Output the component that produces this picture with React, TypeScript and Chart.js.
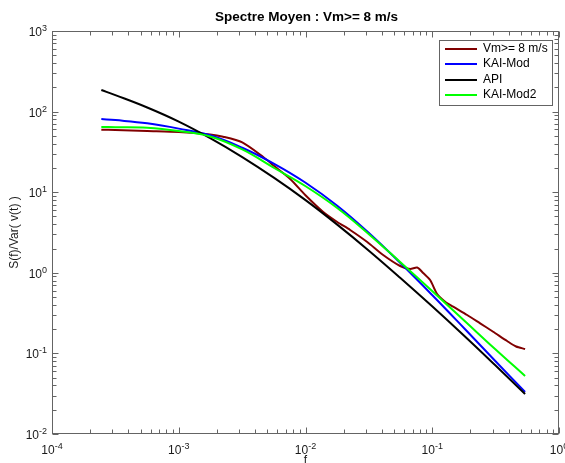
import React, { useEffect, useRef } from "react";
import { Chart, registerables } from "chart.js";

Chart.register(...registerables);

// ---------- text ----------
const TITLE = "Spectre Moyen : Vm>= 8 m/s";
const X_LABEL = "f";
const Y_LABEL = "S(f)/Var( v(t) )";
const SERIES_LABELS = ["Vm>= 8 m/s", "KAI-Mod", "API", "KAI-Mod2"];
const SERIES_COLORS = ["#800000", "#0000ff", "#000000", "#00ff00"];

// ---------- axes ----------
const X_MIN = 1e-4;
const X_MAX = 1;
const Y_MIN = 1e-2;
const Y_MAX = 1e3;

// ---------- data ----------
const fModel = [2.45e-4, 3.16e-4, 5.64e-4, 1.0e-3, 1.77e-3, 3.17e-3, 5.66e-3, 9.95e-3, 1.78e-2, 3.18e-2, 5.58e-2, 0.0998, 0.1785, 0.313, 0.54];
const sKaiMod = [80.9, 78.5, 71.5, 61.5, 50.8, 35.6, 22.5, 13.2, 6.8, 3.1, 1.33, 0.53, 0.205, 0.081, 0.0333];
const sApi = [185.4, 160.2, 112.4, 75.1, 46.8, 27.26, 15.04, 8.03, 3.96, 1.87, 0.869, 0.384, 0.1654, 0.0716, 0.03135];
const sKaiMod2 = [64.4, 64.1, 63.1, 57.4, 49.1, 33.9, 19.96, 11.94, 6.37, 2.99, 1.361, 0.5945, 0.256, 0.1134, 0.0524];

const fVm = [2.45e-4, 3.16e-4, 5.64e-4, 1.0e-3, 1.77e-3, 2.24e-3, 3.17e-3, 4.64e-3, 5.66e-3, 7.57e-3, 9.95e-3, 0.0138, 0.0178, 0.0225, 0.0307, 0.041, 0.0558, 0.0669, 0.076, 0.0848, 0.0962, 0.1093, 0.1264, 0.1462, 0.1885, 0.2387, 0.3022, 0.3896, 0.4589, 0.54];
const sVm = [59.6, 59.1, 57.4, 55.8, 52.0, 48.8, 41.4, 27.3, 21.1, 14.6, 9.23, 5.68, 4.27, 3.4, 2.41, 1.663, 1.214, 1.115, 1.164, 0.994, 0.814, 0.546, 0.438, 0.38, 0.2996, 0.236, 0.1858, 0.1425, 0.1218, 0.1134];

const AXIS_COLOR = "#646464";
const TEXT_COLOR = "#1a1a1a";
const FONT = "'Liberation Sans', Arial, Helvetica, sans-serif";

function toPoints(xs: number[], ys: number[]) {
  return xs.map((x, i) => ({ x, y: ys[i] }));
}

function logTicks(min: number, max: number) {
  const out: { v: number; major: boolean }[] = [];
  const e0 = Math.floor(Math.log10(min));
  const e1 = Math.ceil(Math.log10(max));
  for (let e = e0; e <= e1; e++) {
    for (let k = 1; k <= 9; k++) {
      const v = k * Math.pow(10, e);
      if (v >= min * 0.9999 && v <= max * 1.0001) out.push({ v, major: k === 1 });
    }
  }
  return out;
}

function drawPow(ctx: CanvasRenderingContext2D, exp: number, x: number, baseY: number, align: "center" | "right") {
  ctx.font = `12px ${FONT}`;
  const wb = ctx.measureText("10").width;
  ctx.font = `9px ${FONT}`;
  const es = String(exp);
  const we = ctx.measureText(es).width;
  const total = wb + we;
  const start = align === "center" ? x - total / 2 : x - total;
  ctx.textAlign = "left";
  ctx.textBaseline = "alphabetic";
  ctx.font = `12px ${FONT}`;
  ctx.fillText("10", start, baseY);
  ctx.font = `9px ${FONT}`;
  ctx.fillText(es, start + wb, baseY - 5);
}

const matlabPlugin = {
  id: "matlabDecor",
  afterDraw(chart: any) {
    const { ctx, chartArea: a, scales } = chart;
    const xs = scales.x;
    const ys = scales.y;
    ctx.save();

    // box
    ctx.strokeStyle = AXIS_COLOR;
    ctx.lineWidth = 1;
    const L = Math.round(a.left) + 0.5;
    const R = Math.round(a.right) - 0.5;
    const T = Math.round(a.top) + 0.5;
    const B = Math.round(a.bottom) - 0.5;
    ctx.strokeRect(L, T, R - L, B - T);

    // ticks (inward, all four sides)
    ctx.beginPath();
    for (const t of logTicks(X_MIN, X_MAX)) {
      const px = Math.round(xs.getPixelForValue(t.v)) + 0.5;
      const len = t.major ? 6 : 4;
      ctx.moveTo(px, B);
      ctx.lineTo(px, B - len);
      ctx.moveTo(px, T);
      ctx.lineTo(px, T + len);
    }
    for (const t of logTicks(Y_MIN, Y_MAX)) {
      const py = Math.round(ys.getPixelForValue(t.v)) + 0.5;
      const len = t.major ? 6 : 4;
      ctx.moveTo(L, py);
      ctx.lineTo(L + len, py);
      ctx.moveTo(R, py);
      ctx.lineTo(R - len, py);
    }
    ctx.stroke();

    // tick labels
    ctx.fillStyle = TEXT_COLOR;
    for (let e = Math.round(Math.log10(X_MIN)); e <= Math.round(Math.log10(X_MAX)); e++) {
      const px = xs.getPixelForValue(Math.pow(10, e));
      drawPow(ctx, e, px, a.bottom + 20, "center");
    }
    for (let e = Math.round(Math.log10(Y_MIN)); e <= Math.round(Math.log10(Y_MAX)); e++) {
      const py = ys.getPixelForValue(Math.pow(10, e));
      drawPow(ctx, e, a.left - 5, py + 5, "right");
    }

    // title
    ctx.font = `bold 13.5px ${FONT}`;
    ctx.textAlign = "center";
    ctx.textBaseline = "middle";
    ctx.fillStyle = "#000";
    ctx.fillText(TITLE, (a.left + a.right) / 2 + 1, 17);

    // axis labels
    ctx.font = `12px ${FONT}`;
    ctx.fillStyle = TEXT_COLOR;
    ctx.textBaseline = "top";
    ctx.fillText(X_LABEL, (a.left + a.right) / 2, a.bottom + 21);
    ctx.save();
    ctx.translate(15, (a.top + a.bottom) / 2);
    ctx.rotate(-Math.PI / 2);
    ctx.textBaseline = "middle";
    ctx.fillText(Y_LABEL, 0, 0);
    ctx.restore();

    // legend
    ctx.font = `12px ${FONT}`;
    let maxW = 0;
    for (const s of SERIES_LABELS) maxW = Math.max(maxW, ctx.measureText(s).width);
    const lineLen = 32;
    const boxW = Math.round(6 + lineLen + 6 + maxW + 5);
    const rowH = 15.6;
    const boxH = 66;
    const boxR = Math.round(a.right) - 6;
    const boxL = boxR - boxW;
    const boxT = Math.round(a.top) + 9;
    ctx.fillStyle = "#fff";
    ctx.fillRect(boxL, boxT, boxW, boxH);
    ctx.strokeStyle = AXIS_COLOR;
    ctx.lineWidth = 1;
    ctx.strokeRect(boxL + 0.5, boxT + 0.5, boxW - 1, boxH - 1);
    SERIES_LABELS.forEach((s, i) => {
      const cy = Math.round(boxT + 8.5 + i * rowH);
      ctx.strokeStyle = SERIES_COLORS[i];
      ctx.lineWidth = 2;
      ctx.beginPath();
      ctx.moveTo(boxL + 6, cy);
      ctx.lineTo(boxL + 6 + lineLen, cy);
      ctx.stroke();
      ctx.fillStyle = "#000";
      ctx.textAlign = "left";
      ctx.textBaseline = "middle";
      ctx.fillText(s, boxL + 6 + lineLen + 6, cy);
    });

    ctx.restore();
  },
};

export default function App() {
  const canvasRef = useRef<HTMLCanvasElement | null>(null);

  useEffect(() => {
    document.body.style.margin = "0";
    const canvas = canvasRef.current;
    if (!canvas) return;
    const seriesData = [
      toPoints(fVm, sVm),
      toPoints(fModel, sKaiMod),
      toPoints(fModel, sApi),
      toPoints(fModel, sKaiMod2),
    ];
    const chart = new Chart(canvas, {
      type: "line",
      data: {
        datasets: seriesData.map((d, i) => ({
          label: SERIES_LABELS[i],
          data: d,
          borderColor: SERIES_COLORS[i],
          backgroundColor: SERIES_COLORS[i],
          borderWidth: 2,
          pointRadius: 0,
          fill: false,
          order: SERIES_LABELS.length - i,
          tension: i === 0 ? 0.25 : 0.4,
        })),
      },
      options: {
        responsive: false,
        animation: false,
        devicePixelRatio: 1,
        layout: { padding: { top: 31, right: 6, left: 0, bottom: 0 } },
        plugins: {
          legend: { display: false },
          title: { display: false },
          tooltip: { enabled: false },
        },
        scales: {
          x: {
            type: "logarithmic",
            min: X_MIN,
            max: X_MAX,
            ticks: { display: false },
            grid: { display: false },
            border: { display: false },
            afterFit: (s: any) => {
              s.height = 29;
            },
          },
          y: {
            type: "logarithmic",
            min: Y_MIN,
            max: Y_MAX,
            ticks: { display: false },
            grid: { display: false },
            border: { display: false },
            afterFit: (s: any) => {
              s.width = 52;
            },
          },
        },
      } as any,
      plugins: [matlabPlugin],
    });
    return () => chart.destroy();
  }, []);

  return (
    <div style={{ width: 565, height: 463, background: "#fff" }}>
      <canvas ref={canvasRef} width={565} height={463} style={{ display: "block" }} />
    </div>
  );
}
